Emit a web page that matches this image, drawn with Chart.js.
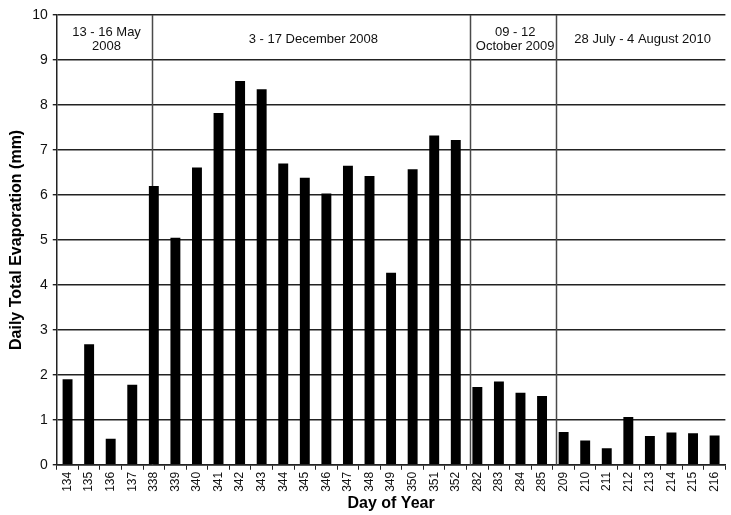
<!DOCTYPE html>
<html>
<head>
<meta charset="utf-8">
<script src="https://cdn.jsdelivr.net/npm/chart.js@4.4.1/dist/chart.umd.min.js"></script>
<style>
  html, body { margin: 0; padding: 0; background: #fff; }
  #wrap { width: 731px; height: 515px; }
</style>
</head>
<body>
<div id="wrap"><canvas id="evapChart" width="731" height="515"></canvas></div>
<script>
// Day of year for each measured day
const days = ['134', '135', '136', '137',
    '338', '339', '340', '341', '342', '343', '344', '345', '346', '347', '348', '349', '350', '351', '352',
    '282', '283', '284', '285',
    '209', '210', '211', '212', '213', '214', '215', '216'];

// Daily total evaporation (mm)
const evaporation = [1.9, 2.68, 0.58, 1.78,
    6.2, 5.05, 6.61, 7.82, 8.53, 8.35, 6.7, 6.38, 6.03, 6.65, 6.42, 4.27, 6.57, 7.32, 7.22,
    1.73, 1.85, 1.6, 1.53,
    0.73, 0.54, 0.37, 1.06, 0.64, 0.72, 0.7, 0.65];

// Campaign separators (in category index units) and campaign labels
const separators = [3.93, 18.68, 22.64];
const campaigns = [
    ['13 - 16 May', '2008'],
    ['3 - 17 December 2008'],
    ['09 - 12', 'October 2009'],
    ['28 July - 4 August 2010']
];

const yTicks = [0, 1, 2, 3, 4, 5, 6, 7, 8, 9, 10];

const FONT = "'Liberation Sans', Arial, sans-serif";

// Draws the vertical campaign dividers and the period labels in the top band
const campaignPlugin = {
    id: 'campaigns',
    beforeDatasetsDraw(chart) {
        const { ctx, chartArea, scales } = chart;
        ctx.save();
        ctx.strokeStyle = '#4a4a4a';
        ctx.lineWidth = 1.5;
        separators.forEach(s => {
            const x = Math.round(scales.x.getPixelForValue(s)) + 0.5;
            ctx.beginPath();
            ctx.moveTo(x, chartArea.top);
            ctx.lineTo(x, chartArea.bottom);
            ctx.stroke();
        });
        ctx.restore();
    },
    afterDatasetsDraw(chart) {
        const { ctx, chartArea, scales } = chart;
        const edges = [chartArea.left]
            .concat(separators.map(s => scales.x.getPixelForValue(s)))
            .concat([chartArea.right]);
        const midY = scales.y.getPixelForValue(9.5);
        ctx.save();
        ctx.fillStyle = '#111';
        ctx.font = '13px ' + FONT;
        ctx.textAlign = 'center';
        ctx.textBaseline = 'middle';
        campaigns.forEach((lines, i) => {
            const cx = (edges[i] + edges[i + 1]) / 2 + 2;
            const lh = 14;
            const y0 = midY - (lines.length - 1) * lh / 2 + 2;
            lines.forEach((t, j) => ctx.fillText(t, cx, y0 + j * lh));
        });
        ctx.restore();
    }
};

const ctx = document.getElementById('evapChart').getContext('2d');
const evapChart = new Chart(ctx, {
    type: 'bar',
    data: {
        labels: days,
        datasets: [
            {
                label: 'Daily Total Evaporation (mm)',
                data: evaporation,
                backgroundColor: '#000',
                borderWidth: 0,
                barPercentage: 0.46,
                categoryPercentage: 1.0
            }
        ]
    },
    options: {
        responsive: false,
        animation: false,
        layout: { padding: { top: 15, right: -10, bottom: 0, left: 0 } },
        plugins: {
            legend: { display: false },
            tooltip: { enabled: false }
        },
        scales: {
            y: {
                min: 0,
                max: 10,
                afterBuildTicks: axis => { axis.ticks = yTicks.map(v => ({ value: v })); },
                ticks: {
                    color: '#111',
                    font: { family: FONT, size: 14 },
                    padding: 5
                },
                grid: {
                    color: '#222',
                    lineWidth: 1.4,
                    tickLength: 4
                },
                border: { color: '#222', width: 1.5 },
                title: {
                    display: true,
                    text: 'Daily Total Evaporation (mm)',
                    color: '#000',
                    font: { family: FONT, size: 16, weight: 'bold' },
                    padding: { top: 7, bottom: 1 }
                }
            },
            x: {
                ticks: {
                    color: '#111',
                    font: { family: FONT, size: 12 },
                    minRotation: 90,
                    maxRotation: 90,
                    autoSkip: false,
                    padding: 2
                },
                grid: {
                    drawOnChartArea: false,
                    color: '#222',
                    tickLength: 5
                },
                border: { color: '#222', width: 1.5 },
                title: {
                    display: true,
                    text: 'Day of Year',
                    color: '#000',
                    font: { family: FONT, size: 16, weight: 'bold' },
                    padding: { top: 0, bottom: 2 }
                }
            }
        }
    },
    plugins: [campaignPlugin]
});
</script>
</body>
</html>
